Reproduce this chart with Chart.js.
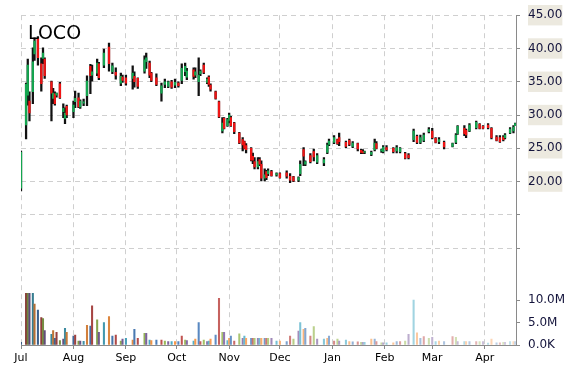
<!DOCTYPE html>
<html>
<head>
<meta charset="utf-8">
<script src="https://cdn.jsdelivr.net/npm/chart.js@4.4.1/dist/chart.umd.min.js"></script>
<style>
  html, body { margin: 0; padding: 0; background: #fff; }
  #wrap { width: 570px; height: 370px; position: relative; }
</style>
</head>
<body>
<div id="wrap"><canvas id="chart"></canvas></div>
<script>
// trading days, counted in calendar days after 1 Jul 2014
const days = [0, 3, 4, 5, 7, 8, 10, 12, 13, 14, 18, 19, 20, 21, 23, 25, 26, 27, 31, 32,
  34, 35, 37, 39, 41, 42, 45, 46, 49, 52, 54, 56, 59, 60, 62, 66, 67, 69, 73, 74,
  76, 77, 80, 83, 85, 87, 89, 91, 93, 95, 97, 98, 102, 103, 105, 106, 108, 110, 111, 112,
  115, 117, 119, 120, 122, 123, 124, 126, 129, 131, 132, 133, 136, 137, 138, 140, 141, 142, 144, 145,
  146, 148, 151, 153, 157, 159, 161, 164, 165, 167, 168, 171, 173, 175, 179, 181, 182, 185, 187, 188,
  192, 194, 196, 199, 201, 202, 203, 207, 209, 210, 213, 214, 216, 220, 222, 224, 227, 229, 232, 234,
  236, 238, 241, 243, 245, 247, 250, 255, 257, 258, 262, 263, 265, 269, 271, 273, 276, 278, 281, 283,
  285, 286, 289, 291, 292];

const opens = [19.0, 28.5, 33.0, 32.1, 33.5, 39.2, 41.5, 37.7, 38.5, 38.4, 35.0, 32.5, 33.2, 33.0, 34.7, 30.5, 29.5, 31.3, 30.5, 32.0,
  32.6, 31.2, 31.8, 32.9, 37.3, 36.0, 36.3, 37.7, 37.5, 40.2, 36.5, 36.4, 34.8, 35.7, 35.6, 35.5, 35.8, 35.5, 36.6, 38.0,
  37.8, 36.3, 35.6, 33.3, 34.6, 34.3, 35.0, 34.5, 34.8, 35.2, 36.5, 35.7, 36.8, 36.0, 35.0, 36.2, 37.5, 34.9, 35.7, 34.5,
  33.5, 32.0, 27.6, 29.5, 28.4, 29.2, 29.6, 28.8, 27.3, 26.3, 26.0, 25.4, 25.0, 23.8, 23.0, 22.2, 23.3, 22.6, 20.5, 21.5,
  21.2, 21.5, 21.0, 21.2, 21.3, 20.8, 20.7, 20.2, 21.2, 24.8, 22.6, 23.9, 24.5, 22.9, 22.8, 24.4, 25.6, 25.9, 26.3, 26.6,
  25.9, 26.2, 25.3, 25.7, 24.7, 24.5, 24.4, 24.1, 24.8, 25.7, 24.6, 24.5, 25.1, 25.0, 24.6, 24.5, 24.2, 24.0, 26.3, 26.8,
  25.9, 26.2, 27.5, 27.6, 26.5, 26.0, 25.9, 25.3, 25.9, 27.2, 28.0, 27.7, 27.6, 28.1, 28.6, 28.3, 28.5, 28.0, 26.7, 26.6,
  26.7, 26.6, 27.3, 27.6, 28.4];

const highs = [24.6, 34.8, 38.4, 33.5, 40.1, 41.6, 41.8, 38.6, 40.1, 38.6, 35.1, 34.0, 33.5, 33.3, 34.9, 31.7, 31.1, 31.5, 32.1, 33.6,
  33.3, 32.3, 32.4, 35.9, 37.6, 37.5, 38.4, 37.9, 39.9, 40.8, 37.8, 37.1, 36.3, 36.0, 36.0, 37.4, 36.5, 35.6, 38.9, 39.3,
  38.1, 36.4, 36.2, 34.8, 35.4, 35.1, 35.2, 35.4, 35.0, 37.7, 37.8, 37.0, 37.1, 37.1, 38.6, 36.8, 37.8, 35.6, 35.9, 34.7,
  33.6, 32.1, 29.6, 29.6, 29.5, 30.3, 29.8, 28.9, 27.4, 26.6, 26.1, 25.7, 25.1, 24.3, 23.6, 23.6, 23.6, 23.1, 21.9, 21.7,
  21.9, 21.7, 21.3, 21.3, 21.6, 21.2, 20.8, 20.7, 23.1, 25.1, 23.1, 24.2, 24.9, 24.2, 23.6, 25.8, 26.4, 26.9, 26.4, 27.3,
  26.1, 26.4, 26.0, 25.8, 24.9, 24.8, 24.6, 24.6, 26.4, 26.0, 24.9, 25.4, 25.4, 25.1, 25.4, 25.1, 24.4, 24.2, 27.9, 27.0,
  27.0, 27.3, 28.1, 28.0, 26.6, 26.6, 26.1, 25.8, 27.2, 28.4, 28.4, 27.9, 28.7, 29.1, 28.7, 28.4, 28.7, 28.1, 26.9, 26.9,
  26.9, 27.2, 28.1, 28.4, 28.8];

const lows = [18.6, 26.4, 31.5, 29.1, 31.7, 38.2, 37.5, 33.6, 37.7, 35.5, 29.1, 31.7, 31.5, 32.7, 32.5, 29.6, 28.7, 29.6, 29.6, 31.1,
  31.1, 31.0, 31.4, 31.4, 33.2, 35.1, 35.9, 35.3, 37.1, 36.6, 36.2, 35.4, 34.4, 34.9, 34.5, 33.9, 34.2, 34.0, 36.3, 37.0,
  35.6, 35.0, 34.4, 32.1, 34.1, 34.1, 34.0, 34.1, 34.2, 34.7, 35.9, 35.3, 35.4, 35.6, 32.9, 35.9, 36.2, 34.7, 34.3, 33.6,
  32.4, 29.6, 27.3, 27.9, 28.3, 28.8, 28.3, 27.2, 25.7, 24.6, 24.9, 24.3, 23.1, 22.7, 21.9, 21.9, 22.4, 20.1, 20.1, 20.3,
  20.9, 20.8, 20.8, 20.5, 20.5, 19.85, 20.0, 20.0, 20.9, 22.4, 22.4, 22.8, 23.1, 22.7, 22.4, 24.2, 25.4, 25.7, 25.6, 25.4,
  25.1, 25.4, 25.1, 24.6, 24.2, 24.2, 24.2, 23.9, 24.6, 24.9, 24.4, 24.3, 24.6, 24.3, 24.3, 24.3, 23.4, 23.4, 26.0, 25.7,
  25.7, 26.0, 27.3, 26.4, 25.8, 25.7, 24.9, 25.2, 25.7, 27.1, 26.9, 26.6, 27.5, 27.9, 27.9, 27.9, 27.9, 26.4, 26.1, 25.9,
  26.1, 26.4, 27.2, 27.3, 28.4];

const closes = [24.4, 34.6, 37.5, 30.3, 38.0, 41.1, 38.6, 34.7, 39.3, 35.9, 33.3, 33.3, 31.7, 33.3, 32.6, 31.0, 30.3, 30.0, 31.5, 32.5,
  31.2, 32.1, 32.0, 35.1, 35.9, 36.5, 37.8, 35.6, 39.3, 37.7, 37.4, 36.0, 35.8, 35.2, 34.8, 36.3, 35.0, 34.3, 38.3, 38.6,
  36.0, 35.2, 34.6, 34.4, 35.0, 35.0, 34.2, 34.9, 34.4, 37.0, 37.3, 36.6, 35.8, 36.5, 36.0, 36.6, 36.4, 35.4, 34.6, 33.9,
  32.5, 29.7, 28.8, 28.0, 29.3, 30.0, 28.4, 27.5, 25.8, 25.5, 25.0, 24.8, 23.2, 23.2, 22.2, 23.0, 22.6, 20.5, 21.0, 20.6,
  21.6, 20.9, 21.2, 20.6, 20.8, 20.2, 20.1, 20.6, 22.6, 23.8, 23.0, 23.0, 23.7, 23.9, 23.3, 25.5, 26.1, 26.6, 25.7, 26.0,
  25.3, 25.6, 25.8, 24.9, 24.4, 24.3, 24.5, 24.4, 25.8, 25.0, 24.8, 25.2, 24.8, 24.5, 25.1, 25.0, 23.5, 23.6, 27.6, 25.9,
  26.6, 27.0, 27.8, 26.6, 25.9, 26.3, 25.2, 25.7, 27.0, 28.3, 27.2, 27.0, 28.5, 28.9, 28.0, 28.0, 28.1, 26.6, 26.2, 26.0,
  26.3, 27.0, 27.9, 28.2, 28.7];

// volume in millions of shares
const volumes = [0.6, 11.5, 11.5, 11.5, 11.5, 9.1, 7.8, 6.1, 5.9, 3.2, 2.4, 3.2, 1.5, 2.8, 1.0, 1.3, 3.7, 2.8, 2.0, 2.2,
  0.9, 0.9, 0.8, 4.4, 4.2, 8.7, 5.6, 2.8, 5.0, 6.3, 2.0, 2.2, 0.9, 1.3, 1.5, 1.1, 3.5, 1.5, 2.6, 2.6,
  1.1, 1.0, 1.1, 1.1, 0.9, 0.75, 0.75, 0.75, 0.75, 2.0, 1.1, 1.0, 0.9, 1.3, 5.0, 0.75, 1.1, 0.75, 0.9, 1.3,
  2.2, 10.4, 2.8, 2.8, 1.0, 1.5, 2.0, 0.9, 2.5, 1.5, 2.0, 1.5, 1.5, 1.5, 1.5, 1.5, 1.5, 1.5, 1.5, 1.5,
  1.5, 1.5, 0.9, 0.9, 0.75, 2.0, 1.3, 3.1, 5.0, 3.5, 3.7, 2.0, 4.1, 1.3, 1.3, 1.5, 2.0, 0.9, 1.3, 0.9,
  1.1, 0.75, 0.7, 0.7, 0.6, 0.6, 0.6, 1.3, 1.3, 0.75, 0.5, 0.5, 0.5, 0.5, 0.75, 0.75, 0.9, 2.4, 10.0, 2.7,
  1.5, 1.85, 1.5, 1.7, 0.75, 0.9, 0.75, 1.85, 1.7, 0.75, 0.75, 0.75, 0.75, 0.75, 0.75, 0.75, 0.4, 1.3, 0.5, 0.5,
  0.6, 0.6, 0.75, 0.75, 0.75];

const monthStarts = [0, 31, 62, 92, 123, 153, 184, 215, 243, 274];
const monthLabels = ["Jul", "Aug", "Sep", "Oct", "Nov", "Dec", "Jan", "Feb", "Mar", "Apr"];
const priceTicks = [10, 15, 20, 25, 30, 35, 40, 45];
const volumeTicks = [0, 5, 10];

const UP = "#14a650";
const DOWN = "#f01414";
const palette = ["#4F81BD", "#C0504D", "#9BBB59", "#8064A2", "#4BACC6", "#F79646"];

// volume bars: office palette, dark at the start and fading to pastel at the end
function volColor(i) {
  const hex = palette[i % palette.length];
  const t = i / (days.length - 1);
  const shade = -0.3 + t * 0.95;
  const rgb = [1, 3, 5].map(k => parseInt(hex.substr(k, 2), 16)).map(c =>
    Math.round(shade < 0 ? c * (1 + shade) : c + (255 - c) * shade));
  return `rgb(${rgb.join(",")})`;
}

const titlePlugin = {
  id: "ticker",
  afterDraw(chart) {
    const ctx = chart.ctx;
    ctx.save();
    ctx.font = "19px 'DejaVu Sans'";
    ctx.fillStyle = "#000";
    ctx.textBaseline = "alphabetic";
    ctx.fillText("LOCO", chart.chartArea.left + 7, chart.chartArea.top + 24);
    ctx.restore();
  }
};

const gridGrey = "#cfcfcf";
const axisGrey = "#8a8a8a";

new Chart(document.getElementById("chart"), {
  type: "bar",
  data: {
    datasets: [
      {
        label: "body",
        data: days.map((d, i) => ({ x: d, y: [opens[i], closes[i]] })),
        yAxisID: "price",
        backgroundColor: days.map((d, i) => (closes[i] >= opens[i] ? UP : DOWN)),
        barThickness: 1.6,
        grouped: false,
        order: 0,
      },
      {
        label: "range",
        data: days.map((d, i) => ({ x: d, y: [lows[i], highs[i]] })),
        yAxisID: "price",
        backgroundColor: "#111",
        barThickness: 1.6,
        grouped: false,
        order: 1,
      },
      {
        label: "volume",
        data: days.map((d, i) => ({ x: d, y: volumes[i] })),
        yAxisID: "vol",
        backgroundColor: days.map((d, i) => volColor(i)),
        barThickness: 1.4,
        grouped: false,
        order: 2,
      },
    ],
  },
  options: {
    responsive: true,
    maintainAspectRatio: false,
    animation: false,
    layout: { padding: { left: 21, top: 14, right: 0, bottom: 0 } },
    plugins: {
      legend: { display: false },
      tooltip: { enabled: false },
    },
    scales: {
      x: {
        type: "linear",
        min: 0,
        max: 292.5,
        offset: false,
        afterBuildTicks: s => { s.ticks = monthStarts.map(v => ({ value: v })); },
        afterFit: s => { s.height = 25; },
        ticks: {
          autoSkip: false,
          maxRotation: 0,
          padding: 3,
          color: "#000",
          font: { family: "DejaVu Sans", size: 11 },
          callback: v => monthLabels[monthStarts.indexOf(v)],
        },
        grid: { color: gridGrey, offset: false, tickLength: 4, tickColor: axisGrey },
        border: { color: axisGrey, dash: [5, 4] },
      },
      price: {
        type: "linear",
        position: "right",
        stack: "panes",
        stackWeight: 276,
        min: 3.68,
        max: 45,
        afterBuildTicks: s => { s.ticks = priceTicks.map(v => ({ value: v })); },
        afterFit: s => { s.width = 54; },
        ticks: {
          autoSkip: false,
          padding: 8,
          color: "#14143c",
          font: { family: "DejaVu Sans", size: 12 },
          showLabelBackdrop: true,
          backdropColor: c => (c.tick && c.tick.value >= 20 ? "#ece9df" : "rgba(0,0,0,0)"),
          backdropPadding: { x: 0, y: 3 },
          callback: v => (v >= 20 ? v.toFixed(2) : ""),
        },
        grid: { color: gridGrey, tickLength: 4, tickColor: axisGrey },
        border: { color: axisGrey, dash: [5, 4] },
      },
      vol: {
        type: "linear",
        position: "right",
        stack: "panes",
        stackWeight: 55,
        min: 0,
        max: 12.2,
        afterBuildTicks: s => { s.ticks = volumeTicks.map(v => ({ value: v })); },
        afterFit: s => { s.width = 54; },
        ticks: {
          autoSkip: false,
          padding: 8,
          color: "#14143c",
          font: { family: "DejaVu Sans", size: 12 },
          callback: v => (v === 0 ? "0.0K" : v.toFixed(1) + "M"),
        },
        grid: { drawOnChartArea: false, tickLength: 4, tickColor: axisGrey },
        border: { color: axisGrey },
      },
    },
  },
  plugins: [titlePlugin],
});
</script>
</body>
</html>
